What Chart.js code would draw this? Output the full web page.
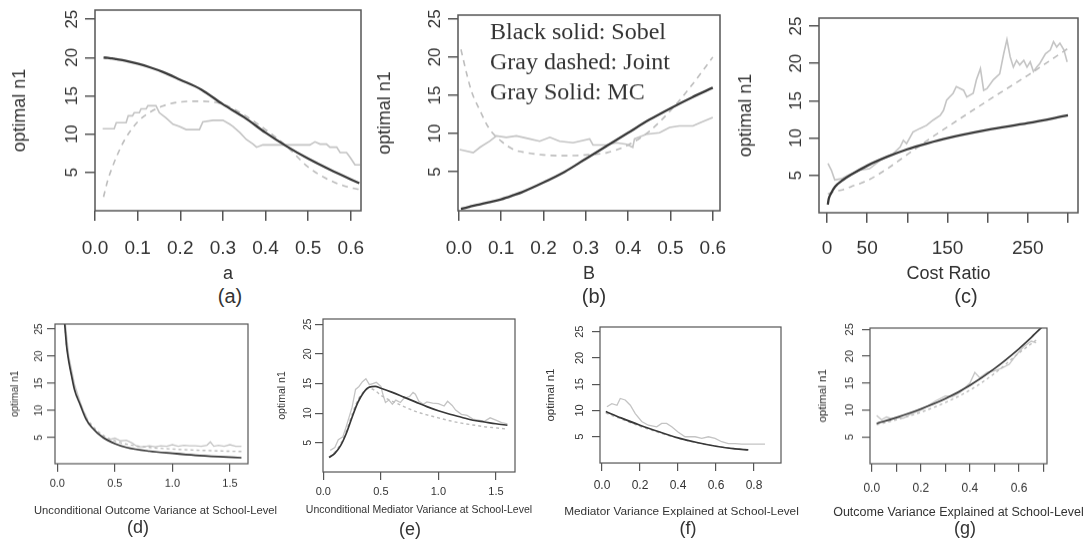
<!DOCTYPE html>
<html>
<head>
<meta charset="utf-8">
<script src="https://cdn.jsdelivr.net/npm/chart.js"></script>
<style>
  body { margin: 0; background: #fff; width: 1086px; height: 541px; overflow: hidden; position: relative;
         font-family: "Liberation Sans", Arial, sans-serif; color: #333; }
  .panel { position: absolute; }
  .cap { position: absolute; transform: translate(-50%, -50%); white-space: nowrap; color: #333; }
</style>
</head>
<body>
<script>
// shared y ticks
const yTicks = [5, 10, 15, 20, 25];
const yLabels = ["5", "10", "15", "20", "25"];
const legendLines = ["Black solid: Sobel", "Gray dashed: Joint", "Gray Solid: MC"];

// (a) effect a
const aTicks = [0, 0.1, 0.2, 0.3, 0.4, 0.5, 0.6];
const aLabels = ["0.0", "0.1", "0.2", "0.3", "0.4", "0.5", "0.6"];
const aX = [0.02, 0.03, 0.04, 0.05, 0.07, 0.1, 0.13, 0.16, 0.2, 0.25, 0.3, 0.35, 0.4, 0.45, 0.5, 0.55, 0.6, 0.62];
const aSobel = [20.0, 19.95, 19.9, 19.8, 19.6, 19.2, 18.7, 18.1, 17.1, 15.8, 13.9, 12.2, 10.2, 8.4, 6.8, 5.4, 4.1, 3.6];
const aJoint = [1.8, 4.0, 5.6, 7.0, 9.3, 11.6, 12.9, 13.7, 14.2, 14.3, 13.9, 12.5, 10.6, 8.4, 5.7, 4.0, 3.0, 2.8];
const aMcX = [0.018, 0.045, 0.05, 0.073, 0.078, 0.088, 0.092, 0.104, 0.108, 0.12, 0.124, 0.143, 0.151, 0.167, 0.183, 0.198, 0.214, 0.245, 0.253, 0.277, 0.3, 0.316, 0.324, 0.34, 0.355, 0.371, 0.379, 0.394, 0.504, 0.516, 0.528, 0.543, 0.551, 0.567, 0.575, 0.59, 0.598, 0.61, 0.622];
const aMc = [10.7, 10.7, 11.5, 11.5, 12.4, 12.4, 12.8, 12.8, 13.3, 13.3, 13.7, 13.7, 12.8, 12.1, 11.3, 11.0, 10.6, 10.6, 11.6, 11.8, 11.8, 11.3, 11.0, 10.2, 9.3, 8.7, 8.3, 8.6, 8.6, 9.0, 8.7, 8.7, 8.3, 8.3, 7.6, 7.6, 7.0, 6.0, 6.0];

// (b) effect B
const bX = [0.005, 0.02, 0.03, 0.05, 0.07, 0.1, 0.13, 0.15, 0.2, 0.25, 0.3, 0.35, 0.4, 0.45, 0.5, 0.55, 0.6];
const bSobel = [0.15, 0.35, 0.5, 0.75, 1.0, 1.4, 1.95, 2.35, 3.6, 5.0, 6.7, 8.4, 10.1, 11.8, 13.3, 14.7, 16.0];
const bJoint = [21.0, 17.5, 15.5, 13.0, 10.8, 9.0, 7.9, 7.6, 7.2, 7.1, 7.2, 7.5, 8.5, 10.3, 13.0, 16.3, 20.0];
const bMcX = [0.002, 0.034, 0.05, 0.073, 0.089, 0.112, 0.136, 0.167, 0.191, 0.215, 0.238, 0.27, 0.309, 0.317, 0.348, 0.372, 0.396, 0.411, 0.415, 0.443, 0.474, 0.498, 0.521, 0.553, 0.569, 0.6];
const bMc = [7.9, 7.5, 8.2, 9.0, 9.7, 9.5, 9.7, 9.3, 9.0, 9.5, 9.0, 8.8, 9.3, 8.5, 8.5, 8.8, 8.6, 8.2, 9.3, 9.9, 10.1, 10.8, 11.0, 11.0, 11.4, 12.1];

// (c) cost ratio
const cTicks = [0, 50, 100, 150, 200, 250, 300];
const cLabels = ["0", "50", "", "150", "", "250", ""];
const cX = [1, 2, 5, 10, 20, 30, 50, 75, 100, 125, 150, 200, 250, 300];
const cSobel = [1.1, 1.8, 2.6, 3.5, 4.4, 5.1, 6.3, 7.5, 8.5, 9.3, 10.0, 11.1, 12.0, 13.05];
const cJoint = [2.5, 2.55, 2.7, 2.85, 3.1, 3.5, 4.3, 5.9, 7.8, 9.7, 11.5, 15.0, 18.4, 22.0];
const cMcX = [1.2, 5.4, 9.6, 18, 26, 41, 53, 66, 74, 82, 91, 95, 99, 107, 116, 124, 132, 141, 145, 149, 157, 161, 170, 174, 182, 186, 191, 195, 199, 207, 215, 220, 224, 228, 232, 236, 240, 245, 249, 253, 257, 261, 265, 272, 278, 282, 286, 290, 295, 299];
const cMc = [6.6, 5.7, 4.4, 4.55, 5.0, 5.7, 5.9, 7.0, 7.5, 7.9, 8.8, 9.7, 9.25, 10.8, 11.3, 11.7, 12.4, 13.05, 13.7, 15.1, 16.0, 16.9, 16.4, 15.5, 16.0, 17.8, 19.3, 16.4, 16.6, 17.8, 18.6, 21.3, 23.2, 20.9, 19.5, 20.4, 19.8, 20.4, 19.5, 20.2, 18.9, 19.5, 20.0, 21.3, 21.8, 22.9, 22.2, 22.7, 21.8, 20.2];

// (d) unconditional outcome variance
const dTicks = [0, 0.5, 1, 1.5];
const dLabels = ["0.0", "0.5", "1.0", "1.5"];
const dX = [0.06, 0.07, 0.08, 0.1, 0.125, 0.15, 0.2, 0.25, 0.3, 0.4, 0.5, 0.6, 0.8, 1.0, 1.2, 1.4, 1.6];
const dSobel = [27, 24.5, 22, 19, 16.3, 13.8, 11.0, 8.4, 6.9, 5.0, 3.9, 3.2, 2.5, 2.1, 1.75, 1.5, 1.3];
const dJoint = [27, 24.5, 22, 19, 16.5, 14.0, 11.2, 8.8, 7.3, 5.4, 4.4, 3.8, 3.2, 2.9, 2.7, 2.55, 2.45];
const dMcX = [0.07, 0.1, 0.15, 0.2, 0.23, 0.25, 0.27, 0.3, 0.35, 0.4, 0.45, 0.5, 0.55, 0.6, 0.65, 0.7, 0.75, 0.8, 0.85, 0.9, 0.95, 1.0, 1.05, 1.1, 1.15, 1.2, 1.25, 1.3, 1.33, 1.36, 1.4, 1.45, 1.5, 1.55, 1.6];
const dMc = [26, 20, 14.8, 11.5, 9.8, 9.0, 7.5, 6.8, 5.7, 4.9, 4.6, 4.9, 4.4, 4.5, 4.0, 3.3, 3.3, 3.5, 3.3, 3.5, 3.4, 3.7, 3.4, 3.6, 3.5, 3.5, 3.4, 3.6, 4.2, 3.4, 3.6, 3.4, 3.7, 3.4, 3.4];

// (e) unconditional mediator variance
const eX = [0.05, 0.1, 0.15, 0.2, 0.25, 0.3, 0.35, 0.4, 0.45, 0.5, 0.6, 0.7, 0.8, 0.9, 1.0, 1.1, 1.2, 1.3, 1.4, 1.5, 1.6];
const eSobel = [2.5, 3.2, 4.5, 6.6, 9.3, 11.8, 13.5, 14.4, 14.5, 14.2, 13.5, 12.7, 11.9, 11.1, 10.4, 9.8, 9.3, 8.8, 8.5, 8.2, 7.95];
const eJoint = [2.6, 3.4, 4.8, 7.0, 9.8, 12.2, 13.6, 14.2, 13.8, 13.0, 12.0, 11.1, 10.3, 9.7, 9.2, 8.7, 8.3, 8.0, 7.7, 7.5, 7.3];
const eMcX = [0.06, 0.1, 0.13, 0.17, 0.2, 0.25, 0.28, 0.31, 0.34, 0.37, 0.4, 0.43, 0.46, 0.5, 0.52, 0.54, 0.57, 0.6, 0.63, 0.67, 0.7, 0.75, 0.78, 0.8, 0.83, 0.87, 0.9, 0.95, 1.0, 1.05, 1.08, 1.12, 1.15, 1.2, 1.25, 1.3, 1.35, 1.4, 1.45, 1.5, 1.55, 1.6];
const eMc = [3.7, 4.2, 5.5, 6.0, 7.8, 11.0, 14.0, 14.5, 15.3, 15.8, 14.8, 15.0, 15.2, 14.5, 13.0, 11.8, 12.2, 11.5, 12.2, 11.8, 12.5, 12.8, 13.5, 13.2, 12.0, 11.5, 11.9, 11.7, 11.6, 11.2, 12.0, 11.3, 10.5, 9.8, 9.6, 9.0, 8.8, 8.6, 9.2, 8.8, 8.4, 8.2];

// (f) mediator variance explained
const fTicks = [0, 0.2, 0.4, 0.6, 0.8];
const fLabels = ["0.0", "0.2", "0.4", "0.6", "0.8"];
const fX = [0.02, 0.1, 0.2, 0.3, 0.4, 0.5, 0.6, 0.7, 0.77];
const fSobel = [9.8, 8.6, 7.2, 5.95, 4.8, 3.9, 3.2, 2.7, 2.5];
const fJoint = [9.5, 8.4, 7.0, 5.8, 4.7, 3.85, 3.2, 2.75, 2.55];
const fMcX = [0.026, 0.052, 0.079, 0.096, 0.122, 0.149, 0.175, 0.209, 0.244, 0.288, 0.314, 0.34, 0.367, 0.4, 0.437, 0.49, 0.525, 0.56, 0.595, 0.63, 0.665, 0.7, 0.735, 0.77, 0.823, 0.858];
const fMc = [10.7, 11.3, 11.0, 12.3, 12.0, 11.0, 9.4, 7.9, 7.2, 6.9, 7.55, 7.55, 6.9, 5.9, 5.0, 5.0, 4.7, 5.0, 4.7, 4.05, 3.7, 3.7, 3.6, 3.6, 3.6, 3.6];

// (g) outcome variance explained
const gTicks = [0, 0.1, 0.2, 0.3, 0.4, 0.5, 0.6, 0.7];
const gLabels = ["0.0", "", "0.2", "", "0.4", "", "0.6", ""];
const gX = [0.02, 0.1, 0.2, 0.3, 0.4, 0.5, 0.6, 0.65, 0.7];
const gSobel = [7.5, 8.6, 10.2, 12.1, 14.6, 17.7, 21.4, 23.5, 25.7];
const gJointX = [0.02, 0.1, 0.2, 0.3, 0.4, 0.5, 0.6, 0.67];
const gJoint = [7.3, 8.2, 9.6, 11.4, 13.7, 16.8, 20.6, 23.0];
const gMcX = [0.02, 0.04, 0.06, 0.08, 0.1, 0.13, 0.16, 0.2, 0.23, 0.26, 0.3, 0.33, 0.36, 0.4, 0.42, 0.44, 0.47, 0.5, 0.53, 0.56, 0.59, 0.62, 0.65, 0.67];
const gMc = [9.0, 8.2, 8.7, 8.4, 8.6, 8.5, 9.3, 10.0, 10.8, 11.7, 12.6, 12.5, 13.3, 15.0, 17.0, 16.0, 17.0, 17.3, 17.8, 18.5, 20.3, 21.8, 22.8, 22.5];

function pts(xs, ys) {
  return xs.map((x, i) => ({x: x, y: ys[i]}));
}

// plot frame like R's box()
const boxPlugin = {
  id: 'box',
  afterDatasetsDraw(chart, args, opts) {
    const {ctx, chartArea: a} = chart;
    ctx.save();
    ctx.strokeStyle = '#555';
    ctx.lineWidth = opts.width;
    ctx.strokeRect(a.left, a.top, a.right - a.left, a.bottom - a.top);
    ctx.restore();
  }
};

// x axis title without the width squeeze of the built-in one
const xTitle = {
  id: 'xTitle',
  afterDraw(chart, args, opts) {
    const {ctx, chartArea: a} = chart;
    const sx = chart.scales.x;
    ctx.save();
    ctx.font = opts.size + 'px "Liberation Sans", Arial, sans-serif';
    ctx.fillStyle = '#333';
    ctx.textAlign = 'center';
    ctx.textBaseline = 'middle';
    ctx.fillText(opts.text, (a.left + a.right) / 2 + opts.shift, sx.bottom - opts.size * 0.6);
    ctx.restore();
  }
};

// text legend inside panel (b)
const textLegend = {
  id: 'textLegend',
  afterDraw(chart, args, opts) {
    if (!opts.lines) return;
    const {ctx, chartArea: a} = chart;
    ctx.save();
    ctx.font = '24px "Liberation Serif", "Times New Roman", serif';
    ctx.fillStyle = '#333';
    ctx.textBaseline = 'middle';
    opts.lines.forEach((t, i) => ctx.fillText(t, a.left + 32, a.top + 18 + i * 30));
    ctx.restore();
  }
};

function makePanel(p) {
  const [bl, bt, br, bb] = p.box;
  const divL = p.yTitleX - 15, divT = bt - 5, divR = br + 40;
  const divB = p.xTitleY + p.titleSize * 0.6;
  const div = document.createElement('div');
  div.className = 'panel';
  div.style.left = divL + 'px';
  div.style.top = divT + 'px';
  div.style.width = (divR - divL) + 'px';
  div.style.height = (divB - divT) + 'px';
  const canvas = document.createElement('canvas');
  div.appendChild(canvas);
  document.body.appendChild(div);

  const cap = document.createElement('div');
  cap.className = 'cap';
  cap.textContent = p.caption;
  cap.style.left = p.capX + 'px';
  cap.style.top = p.capY + 'px';
  cap.style.fontSize = p.capSize + 'px';
  document.body.appendChild(cap);

  const noPad = s => { s.paddingLeft = 0; s.paddingRight = 0; s.paddingTop = 0; s.paddingBottom = 0; };
  const grid = {drawOnChartArea: false, tickLength: p.tickLen, color: '#555', tickColor: '#555', lineWidth: p.lw.box};

  new Chart(canvas, {
    type: 'line',
    data: {
      datasets: [
        {label: 'Sobel', data: p.sobel, borderColor: '#383838', borderWidth: p.lw.sobel, cubicInterpolationMode: 'monotone'},
        {label: 'Joint', data: p.joint, borderColor: '#bdbdbd', borderWidth: p.lw.joint, borderDash: p.dash, cubicInterpolationMode: 'monotone'},
        {label: 'MC', data: p.mc, borderColor: '#c4c4c4', borderWidth: p.lw.mc, tension: 0}
      ]
    },
    options: {
      responsive: true,
      maintainAspectRatio: false,
      animation: false,
      layout: {padding: {top: bt - divT, right: divR - br, left: 0, bottom: 0}},
      elements: {point: {radius: 0}},
      plugins: {
        legend: {display: false},
        tooltip: {enabled: false},
        box: {width: p.lw.box},
        xTitle: {text: p.xTitle, size: p.titleSize, shift: p.titleShift || 0},
        textLegend: {lines: p.legend}
      },
      scales: {
        x: {
          type: 'linear', min: p.xMin, max: p.xMax,
          afterBuildTicks: s => { s.ticks = p.xTicks.map(v => ({value: v})); },
          afterFit: s => { s.height = divB - bb; noPad(s); },
          grid: grid,
          border: {display: false},
          ticks: {autoSkip: false, maxRotation: 0, minRotation: 0, padding: p.xTickPad, color: '#333',
                  font: {size: p.xTickSize}, callback: (v, i) => p.xLabels[i]},
          title: {display: false}
        },
        y: {
          type: 'linear', min: p.yMin, max: p.yMax,
          afterBuildTicks: s => { s.ticks = yTicks.map(v => ({value: v})); },
          afterFit: s => { s.width = bl - divL; noPad(s); },
          grid: grid,
          border: {display: false},
          ticks: {autoSkip: false, minRotation: 90, maxRotation: 90, crossAlign: 'center', padding: p.yTickPad,
                  color: '#333', font: {size: p.yTickSize}, callback: (v, i) => yLabels[i]},
          title: {display: true, text: 'optimal n1', color: '#333', font: {size: p.yTitleSize},
                  padding: {top: 15 - p.yTitleSize * 0.6, bottom: 0}}
        }
      }
    },
    plugins: [boxPlugin, xTitle, textLegend]
  });
}

const topLw = {sobel: 2.3, joint: 1.6, mc: 1.6, box: 1.5};
const botLw = {sobel: 1.7, joint: 1.4, mc: 1.3, box: 1.2};

const panels = [
  {box: [95, 10, 361, 210], xMin: 0, xMax: 0.624, yMin: 0, yMax: 26.2, xTicks: aTicks, xLabels: aLabels, xTitle: 'a',
   sobel: pts(aX, aSobel), joint: pts(aX, aJoint), mc: pts(aMcX, aMc),
   yTitleX: 20, xTitleY: 273, titleSize: 18, yTitleSize: 18, xTickSize: 19, yTickSize: 17, tickLen: 10, xTickPad: 16, yTickPad: 3,
   caption: '(a)', capX: 230, capY: 296, capSize: 20, lw: topLw, dash: [6, 5]},
  {box: [458, 15, 720, 210], xMin: -0.002, xMax: 0.617, yMin: -0.1, yMax: 25.5, xTicks: aTicks, xLabels: aLabels, xTitle: 'B',
   sobel: pts(bX, bSobel), joint: pts(bX, bJoint), mc: pts(bMcX, bMc), legend: legendLines,
   yTitleX: 385, xTitleY: 273, titleSize: 18, yTitleSize: 18, xTickSize: 19, yTickSize: 17, tickLen: 10, xTickPad: 16, yTickPad: 3,
   caption: '(b)', capX: 594, capY: 296, capSize: 20, lw: topLw, dash: [6, 5]},
  {box: [819, 18, 1078, 212], xMin: -10, xMax: 312.5, yMin: 0, yMax: 26.07, xTicks: cTicks, xLabels: cLabels, xTitle: 'Cost Ratio',
   sobel: pts(cX, cSobel), joint: pts(cX, cJoint), mc: pts(cMcX, cMc),
   yTitleX: 746, xTitleY: 273, titleSize: 18, yTitleSize: 18, xTickSize: 19, yTickSize: 17, tickLen: 10, xTickPad: 14, yTickPad: 3,
   caption: '(c)', capX: 966, capY: 296, capSize: 20, lw: topLw, dash: [6, 5]},
  {box: [55, 324, 248, 463], xMin: -0.02, xMax: 1.657, yMin: 0.19, yMax: 25.93, xTicks: dTicks, xLabels: dLabels,
   xTitle: 'Unconditional Outcome Variance at School-Level',
   sobel: pts(dX, dSobel), joint: pts(dX, dJoint), mc: pts(dMcX, dMc),
   yTitleX: 15, xTitleY: 510, titleSize: 11.2, titleShift: 4, yTitleSize: 10, xTickSize: 11, yTickSize: 10, tickLen: 8, xTickPad: 5, yTickPad: 2,
   caption: '(d)', capX: 138, capY: 527, capSize: 18, lw: botLw, dash: [3, 3]},
  {box: [323, 319, 515, 472], xMin: -0.003, xMax: 1.666, yMin: 0.05, yMax: 25.9, xTicks: dTicks, xLabels: dLabels,
   xTitle: 'Unconditional Mediator Variance at School-Level',
   sobel: pts(eX, eSobel), joint: pts(eX, eJoint), mc: pts(eMcX, eMc),
   yTitleX: 282, xTitleY: 510, titleSize: 10.5, yTitleSize: 10.5, xTickSize: 11, yTickSize: 10, tickLen: 8, xTickPad: 5, yTickPad: 1,
   caption: '(e)', capX: 410, capY: 529, capSize: 18, lw: botLw, dash: [3, 3]},
  {box: [600, 327, 781, 463], xMin: -0.0105, xMax: 0.942, yMin: 0, yMax: 25.9, xTicks: fTicks, xLabels: fLabels,
   xTitle: 'Mediator Variance Explained at School-Level',
   sobel: pts(fX, fSobel), joint: pts(fX, fJoint), mc: pts(fMcX, fMc),
   yTitleX: 551, xTitleY: 512, titleSize: 11.8, titleShift: -9, yTitleSize: 11.5, xTickSize: 12, yTickSize: 11, tickLen: 8, xTickPad: 7, yTickPad: 6,
   caption: '(f)', capX: 688, capY: 528, capSize: 18, lw: botLw, dash: [3, 3]},
  {box: [870, 328, 1047, 463], xMin: -0.007, xMax: 0.714, yMin: 0.02, yMax: 25.24, xTicks: gTicks, xLabels: gLabels,
   xTitle: 'Outcome Variance Explained at School-Level',
   sobel: pts(gX, gSobel), joint: pts(gJointX, gJoint), mc: pts(gMcX, gMc),
   yTitleX: 823, xTitleY: 512, titleSize: 12.5, yTitleSize: 11.5, xTickSize: 12, yTickSize: 11, tickLen: 8, xTickPad: 9, yTickPad: 6,
   caption: '(g)', capX: 965, capY: 528, capSize: 18, lw: botLw, dash: [3, 3]}
];

panels.forEach(makePanel);
</script>
</body>
</html>
